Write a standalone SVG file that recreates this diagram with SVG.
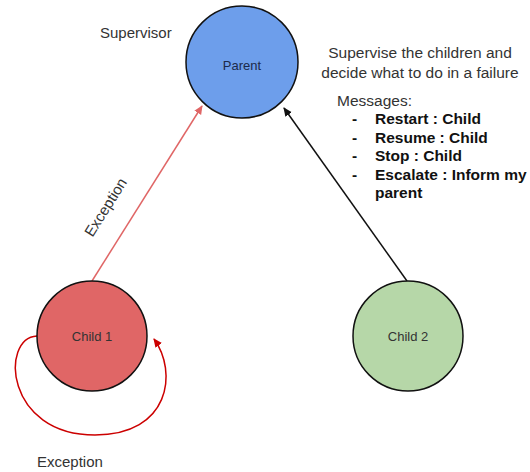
<svg xmlns="http://www.w3.org/2000/svg" width="530" height="472" viewBox="0 0 530 472">
<style>
text{font-family:"Liberation Sans",Arial,sans-serif;fill:#333}
.node{stroke:#111;stroke-width:1.5}
.lbl{font-size:13px;text-anchor:middle}
.note{font-size:15.5px}
.b{font-size:15.5px;font-weight:bold;fill:#111}
</style>
<defs>
<marker id="mr" markerWidth="10" markerHeight="10" refX="8" refY="5" orient="auto" markerUnits="userSpaceOnUse"><path d="M0,1 L9,5 L0,9 Z" fill="#e06666"/></marker>
<marker id="mr2" markerWidth="10" markerHeight="10" refX="8" refY="5" orient="auto" markerUnits="userSpaceOnUse"><path d="M0,1 L9,5 L0,9 Z" fill="#cc0000"/></marker>
<marker id="mk" markerWidth="10" markerHeight="10" refX="8" refY="5" orient="auto" markerUnits="userSpaceOnUse"><path d="M0,1 L9,5 L0,9 Z" fill="#111"/></marker>
</defs>
<g id="connectors">
<line x1="92" y1="281" x2="202" y2="106" stroke="#e06666" stroke-width="1.5" marker-end="url(#mr)"/>
<line x1="407" y1="281" x2="284" y2="108" stroke="#111" stroke-width="1.5" marker-end="url(#mk)"/>
<path d="M37,336 C0,338 5,435 95,435 C170,435 178,372 154,339" fill="none" stroke="#cc0000" stroke-width="1.5" marker-end="url(#mr2)"/>
<text transform="translate(110,210) rotate(-57.8)" font-size="15" text-anchor="middle">Exception</text>
<text x="37" y="467" font-size="15">Exception</text>
</g>
<g id="parent">
<circle class="node" cx="242" cy="62" r="56" fill="#6d9eeb"/>
<text class="lbl" x="242" y="70" style="fill:#1c2a4a">Parent</text>
</g>
<g id="child1">
<circle class="node" cx="92" cy="336" r="55" fill="#e06666"/>
<text class="lbl" x="92" y="341">Child 1</text>
</g>
<g id="child2">
<circle class="node" cx="408" cy="336" r="55" fill="#b6d7a8"/>
<text class="lbl" x="408" y="341">Child 2</text>
</g>
<g id="notes">
<text x="100" y="38" font-size="15">Supervisor</text>
<text class="note" x="420" y="58" text-anchor="middle">Supervise the children and</text>
<text class="note" x="420" y="78" text-anchor="middle">decide what to do in a failure</text>
<text class="note" x="337" y="106">Messages:</text>
<text class="b" x="352" y="124">-</text><text class="b" x="375" y="124">Restart : Child</text>
<text class="b" x="352" y="143">-</text><text class="b" x="375" y="143">Resume : Child</text>
<text class="b" x="352" y="161">-</text><text class="b" x="375" y="161">Stop : Child</text>
<text class="b" x="352" y="180">-</text><text class="b" x="375" y="180">Escalate : Inform my</text>
<text class="b" x="375" y="198">parent</text>
</g>
</svg>
